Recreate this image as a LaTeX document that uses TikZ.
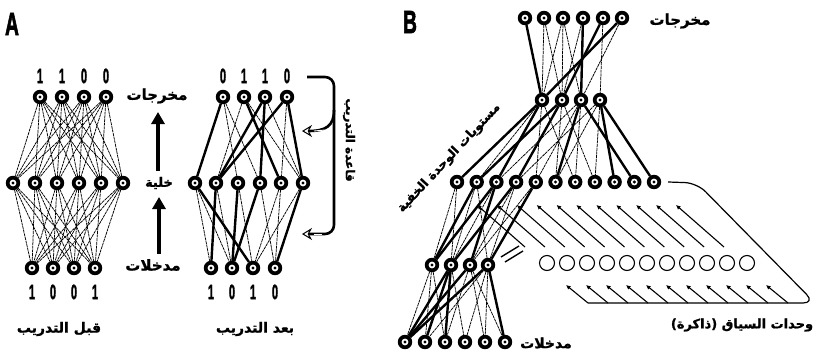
\documentclass[tikz,border=0pt]{standalone}
\usepackage{fontspec}
\usetikzlibrary{arrows.meta}
\TeXXeTstate=1
\newfontfamily\arfont[Script=Arabic,FakeBold=1.2]{DejaVu Sans}
\newfontfamily\heavyfont[FakeBold=2.5]{Liberation Sans}
\newcommand\artxt[1]{\arfont\bfseries\beginR #1\endR}
\newcommand\dg[1]{\scalebox{0.52}[1]{#1}}
\begin{document}
\begin{tikzpicture}[x=1pt,y=-1pt,
  unit/.style={circle, draw=black, fill=black, line width=1.4pt, minimum size=13pt, inner sep=0pt,
     path picture={\fill[white] (path picture bounding box.center) circle (3.4pt);
                   \fill[black] (path picture bounding box.center) circle (1.7pt);}},
  ctx/.style={circle, draw=black, line width=1.1pt, minimum size=15pt, inner sep=0pt},
  wl/.style={line width=0.75pt, dash pattern=on 3pt off 0.7pt},
  wh/.style={line width=2.4pt},
  digit/.style={font=\heavyfont\bfseries\fontsize{21}{21}\selectfont, inner sep=0pt},
  lab/.style={font=\fontsize{13}{13}\selectfont, inner sep=0pt},
  panel/.style={font=\heavyfont\bfseries\fontsize{32}{32}\selectfont, inner sep=0pt},
  bigarrow/.style={line width=4pt, -{Triangle[length=12pt,width=13pt]}},
  bracearrow/.style={line width=2.6pt, -{Stealth[open,fill=white,length=10pt,width=12pt,line width=1pt]}},
  ctxarrow/.style={line width=1.1pt, -{Latex[length=4.5pt,width=4.5pt]}},
]
\useasboundingbox (0,0) rectangle (818,356);

% ---------- Panel A ----------
\node[panel] (letA) at (12,24) {\scalebox{0.6}[1]{A}};

% before training
\foreach \x [count=\i] in {40,62,84,106} \node[unit] (lo\i) at (\x,97) {};
\foreach \x [count=\i] in {13,35,57,79,101,123} \node[unit] (lh\i) at (\x,183) {};
\foreach \x [count=\i] in {32,53,74,95} \node[unit] (li\i) at (\x,268) {};
\foreach \a in {1,...,4} \foreach \b in {1,...,6} {
  \draw[wl] (lo\a) -- (lh\b);
  \draw[wl] (lh\b) -- (li\a);
}
\foreach \x/\d [count=\i] in {40/1,62/1,84/0,106/0} \node[digit] (lod\i) at (\x,76) {\dg{\d}};
\foreach \x/\d [count=\i] in {32/1,53/0,74/0,95/1} \node[digit] (lid\i) at (\x,292) {\dg{\d}};
\node[lab, font=\fontsize{14}{14}\selectfont] (before) at (59,329) {\artxt{قبل التدريب}};

% middle labels and arrows
\node[lab, font=\fontsize{15}{15}\selectfont] (labout) at (157,96) {\artxt{مخرجات}};
\node[lab] (labhid) at (159,183) {\artxt{خلية}};
\node[lab, font=\fontsize{15}{15}\selectfont] (labin) at (153,265) {\artxt{مدخلات}};
\coordinate (ua1) at (158,171);
\coordinate (ua2) at (158,112);
\coordinate (la1) at (159,254);
\coordinate (la2) at (159,197);
\draw[bigarrow] (ua1) -- (ua2);
\draw[bigarrow] (la1) -- (la2);

% after training
\foreach \x [count=\i] in {223,244,265,287} \node[unit] (ro\i) at (\x,97) {};
\foreach \x [count=\i] in {195,216,238,260,281,303} \node[unit] (rh\i) at (\x,183) {};
\foreach \x [count=\i] in {211,232,253,275} \node[unit] (ri\i) at (\x,268) {};
\foreach \a/\b in {1/3,1/4,2/2,2/6,3/6,4/5} \draw[wl] (ro\a) -- (rh\b);
\foreach \a/\b in {1/1,2/5,3/2,3/4,4/2,4/6} \draw[wh] (ro\a) -- (rh\b);
\foreach \a/\b in {1/1,1/2,3/3,4/4,5/3,5/4,6/3,2/2} \draw[wl] (rh\a) -- (ri\b);
\foreach \a/\b in {1/3,2/1,3/2,4/2,6/4} \draw[wh] (rh\a) -- (ri\b);
\foreach \x/\d [count=\i] in {223/0,244/1,265/1,287/0} \node[digit] (rod\i) at (\x,76) {\dg{\d}};
\foreach \x/\d [count=\i] in {211/1,232/0,253/1,275/0} \node[digit] (rid\i) at (\x,292) {\dg{\d}};
\node[lab, font=\fontsize{14}{14}\selectfont] (after) at (255,329) {\artxt{بعد التدريب}};

% learning rule brace
\draw[bracearrow, rounded corners=9pt] (307,77) -- (334,77) -- (334,234) -- (302,234);
\draw[white, line width=0.9pt] (322,234) -- (314,234);
\draw[bracearrow] (334,110) .. controls (334,126) and (326,131) .. (302,131);
\draw[white, line width=0.9pt] (325,130) -- (314,131);
\node[lab, rotate=-90, font=\fontsize{12}{12}\selectfont] (rule) at (349,140) {\artxt{قاعدة التدريب}};

% ---------- Panel B ----------
\node[panel] (letB) at (410,22) {\scalebox{0.6}[1]{B}};

\foreach \x [count=\i] in {525,544,563,583,603,622} \node[unit] (bo\i) at (\x,18) {};
\foreach \x [count=\i] in {542,562,581,600} \node[unit] (bm\i) at (\x,100) {};
\foreach \i in {1,...,11} \node[unit] (bh\i) at ({457+19.7*(\i-1)},182) {};
\foreach \x [count=\i] in {432,451,470,488} \node[unit] (bl\i) at (\x,265) {};
\foreach \x [count=\i] in {405,425,445,465,485,505} \node[unit] (bi\i) at (\x,342) {};
\foreach \i in {1,...,11} \node[ctx] (c\i) at ({547+20*(\i-1)},263) {};

\foreach \a/\b in {2/1,2/2,3/1,3/2,3/3,4/2,5/4,6/3} \draw[wl] (bo\a) -- (bm\b);
\foreach \a/\b in {1/1,4/3,5/2,6/1} \draw[wh] (bo\a) -- (bm\b);
\foreach \a/\b in {1/2,1/5,1/7,2/6,2/8,3/3,3/5,3/7,4/4,4/6,4/8} \draw[wl] (bm\a) -- (bh\b);
\foreach \a/\b in {1/1,1/3,2/2,2/4,3/6,3/10,4/9,4/11} \draw[wh] (bm\a) -- (bh\b);
\foreach \a/\b in {1/1,1/2,2/2,2/4,3/2,4/3,4/4,5/3} \draw[wl] (bh\a) -- (bl\b);
\foreach \a/\b in {2/1,3/1,3/3,4/2,5/4} \draw[wh] (bh\a) -- (bl\b);
\foreach \a/\b in {1/1,1/2,1/3,2/4,3/3,3/5,3/6,4/2,4/4,4/5} \draw[wl] (bl\a) -- (bi\b);
\foreach \a/\b in {2/1,2/2,2/3,3/1,4/1,4/6} \draw[wh] (bl\a) -- (bi\b);

\draw[line width=1.4pt] (501,257) -- (519,246);
\draw[line width=1.4pt] (505,262) -- (523,251);

% copy arrows
\foreach \i in {0,...,10} {
  \coordinate (ut\i) at ({525+19.9*\i},247);
  \coordinate (uh\i) at ({477+19.9*\i},205);
  \draw[ctxarrow] (ut\i) -- (uh\i);
  \coordinate (lt\i) at ({588+20*\i},303);
  \coordinate (lhd\i) at ({566+20*\i},285);
  \draw[ctxarrow] (lt\i) -- (lhd\i);
}
\coordinate (loopA) at ([xshift=7pt]bh11.east);
\draw[line width=1.2pt, rounded corners=12pt] (loopA) -- (697,183) -- (815,303) -- (lt0);

\node[lab, font=\fontsize{15}{15}\selectfont] (outB) at (680,21) {\artxt{مخرجات}};
\node[lab, font=\fontsize{14}{14}\selectfont] (inB) at (546,343) {\artxt{مدخلات}};
\node[lab, font=\fontsize{13}{13}\selectfont] (ctxlab) at (742,325) {\artxt{وحدات السياق (ذاكرة)}};
\node[lab, rotate=47, font=\fontsize{12.5}{12.5}\selectfont] (hidlab) at (449,158) {\artxt{مستويات الوحدة الخفية}};
\end{tikzpicture}
\end{document}
